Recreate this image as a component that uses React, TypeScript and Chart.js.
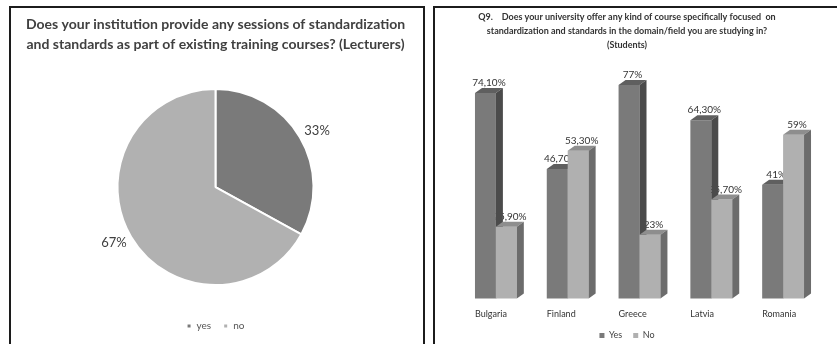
import React, { useEffect, useRef } from "react";
import { Chart, registerables } from "chart.js";

Chart.register(...registerables);

// Lecturers: share of institutions offering standardization sessions
const pieLabels = ["yes", "no"];
const pieValues = [33, 67];
const pieColors = ["#7a7a7a", "#b1b1b1"];

// Students: courses focused on standardization, by country
const countries = ["Bulgaria", "Finland", "Greece", "Latvia", "Romania"];
const seriesNames = ["Yes", "No"];
const yesValues = [74.1, 46.7, 77, 64.3, 41];
const noValues = [25.9, 53.3, 23, 35.7, 59];

const pieTitle = [
  "Does your institution provide any sessions of standardization",
  "and standards as part of existing training courses? (Lecturers)",
];
const barTitle = [
  "Q9.    Does your university offer any kind of course specifically focused  on",
  "standardization and standards in the domain/field you are studying in?",
  "(Students)",
];

const FONT = "Lato, 'Open Sans', sans-serif";

// front / top / side shades for the extruded bars
const faceColors = [
  { front: "#7a7a7a", top: "#5f5f5f", side: "#4b4b4b" },
  { front: "#b0b0b0", top: "#8e8e8e", side: "#6c6c6c" },
];
const DEPTH_X = 7;
const DEPTH_Y = 5;

const fmtPct = (v: number) =>
  Number.isInteger(v) ? `${v}%` : `${v.toFixed(2).replace(".", ",")}%`;

const pieOuterLabels = {
  id: "pieOuterLabels",
  afterDatasetsDraw(chart: any) {
    const { ctx } = chart;
    const meta = chart.getDatasetMeta(0);
    const values = chart.data.datasets[0].data as number[];
    ctx.save();
    ctx.font = `13px ${FONT}`;
    ctx.fillStyle = "#404040";
    ctx.textAlign = "center";
    ctx.textBaseline = "middle";
    meta.data.forEach((arc: any, i: number) => {
      const { x, y, startAngle, endAngle, outerRadius } = arc.getProps(
        ["x", "y", "startAngle", "endAngle", "outerRadius"],
        true
      );
      const mid = (startAngle + endAngle) / 2 + 0.03;
      const r = outerRadius + 18;
      ctx.fillText(fmtPct(values[i]), x + Math.cos(mid) * r, y + Math.sin(mid) * r);
    });
    ctx.restore();
  },
};

const drawFaces = (ctx: CanvasRenderingContext2D, bar: any, faces: any) => {
  const { x, y, base, width } = bar.getProps(["x", "y", "base", "width"], true);
  const l = x - width / 2;
  const r = x + width / 2;
  ctx.fillStyle = faces.top;
  ctx.beginPath();
  ctx.moveTo(l, y);
  ctx.lineTo(l + DEPTH_X, y - DEPTH_Y);
  ctx.lineTo(r + DEPTH_X, y - DEPTH_Y);
  ctx.lineTo(r, y);
  ctx.closePath();
  ctx.fill();
  ctx.fillStyle = faces.side;
  ctx.beginPath();
  ctx.moveTo(r, y);
  ctx.lineTo(r + DEPTH_X, y - DEPTH_Y);
  ctx.lineTo(r + DEPTH_X, base - DEPTH_Y);
  ctx.lineTo(r, base);
  ctx.closePath();
  ctx.fill();
};

const bar3d = {
  id: "bar3d",
  // value labels sit behind the bars, so neighbouring sides may cover them
  beforeDatasetsDraw(chart: any) {
    const { ctx } = chart;
    ctx.save();
    ctx.font = `10px ${FONT}`;
    ctx.fillStyle = "#333333";
    ctx.textAlign = "center";
    ctx.textBaseline = "bottom";
    chart.data.datasets.forEach((ds: any, di: number) => {
      const meta = chart.getDatasetMeta(di);
      meta.data.forEach((bar: any, i: number) => {
        const { x, y } = bar.getProps(["x", "y"], true);
        ctx.fillText(fmtPct(ds.data[i]), x + DEPTH_X / 2, y - DEPTH_Y);
      });
    });
    ctx.restore();
  },
  // paint series left to right so each bar's front hides the side of the one before it
  beforeDatasetDraw() {
    return false;
  },
  afterDatasetsDraw(chart: any) {
    const { ctx } = chart;
    chart.data.datasets.forEach((_ds: any, di: number) => {
      const meta = chart.getDatasetMeta(di);
      meta.controller.draw();
      ctx.save();
      meta.data.forEach((bar: any) => drawFaces(ctx, bar, faceColors[di]));
      ctx.restore();
    });
  },
  // category names start at the left edge of each group
  afterDraw(chart: any) {
    const { ctx, chartArea } = chart;
    const meta = chart.getDatasetMeta(0);
    ctx.save();
    ctx.font = `9px ${FONT}`;
    ctx.fillStyle = "#333333";
    ctx.textAlign = "left";
    ctx.textBaseline = "middle";
    meta.data.forEach((bar: any, i: number) => {
      const { x, width } = bar.getProps(["x", "width"], true);
      ctx.fillText(chart.data.labels[i], x - width / 2, chartArea.bottom + 15);
    });
    ctx.restore();
  },
};

function PieChart() {
  const ref = useRef<HTMLCanvasElement>(null);
  useEffect(() => {
    const chart = new Chart(ref.current as HTMLCanvasElement, {
      type: "pie",
      data: {
        labels: pieLabels,
        datasets: [
          {
            data: pieValues,
            backgroundColor: pieColors,
            borderColor: "#ffffff",
            borderWidth: 2,
            hoverOffset: 0,
            radius: 98,
          } as any,
        ],
      },
      options: {
        responsive: false,
        animation: false,
        devicePixelRatio: 1,
        layout: { padding: { left: 7, right: 0, top: 0, bottom: 3 } },
        plugins: {
          title: {
            display: true,
            text: pieTitle,
            color: "#404040",
            font: { family: FONT, size: 14, weight: "bold", lineHeight: 1.45 },
            padding: { top: 6, bottom: 10.5 },
          },
          legend: {
            position: "bottom",
            labels: {
              boxWidth: 5,
              boxHeight: 5,
              padding: 12,
              color: "#555555",
              font: { family: FONT, size: 10 },
            },
          },
          tooltip: { enabled: false },
        },
      },
      plugins: [pieOuterLabels],
    });
    return () => chart.destroy();
  }, []);
  return (
    <canvas
      ref={ref}
      width={402}
      height={336}
      style={{ position: "absolute", left: 11, top: 8, width: 402, height: 336 }}
    />
  );
}

function BarChart() {
  const ref = useRef<HTMLCanvasElement>(null);
  useEffect(() => {
    const chart = new Chart(ref.current as HTMLCanvasElement, {
      type: "bar",
      data: {
        labels: countries,
        datasets: [
          { label: seriesNames[0], data: yesValues, backgroundColor: faceColors[0].front },
          { label: seriesNames[1], data: noValues, backgroundColor: faceColors[1].front },
        ],
      },
      options: {
        responsive: false,
        animation: false,
        devicePixelRatio: 1,
        layout: { padding: { left: 0, right: 0, top: 0, bottom: 8 } },
        datasets: { bar: { categoryPercentage: 0.583, barPercentage: 1, borderWidth: 0 } },
        scales: {
          x: {
            grid: { display: false, drawTicks: false },
            border: { display: false },
            ticks: { display: false },
            afterFit: (scale: any) => {
              scale.height = 21.4;
            },
          },
          y: {
            min: 0,
            max: 80,
            grid: { display: false, drawTicks: false },
            border: { display: false },
            ticks: { display: false },
            afterFit: (scale: any) => {
              scale.width = 25;
            },
          },
        },
        plugins: {
          title: {
            display: true,
            text: barTitle,
            color: "#333333",
            font: { family: FONT, size: 9, weight: "bold", lineHeight: 1.55 },
            padding: { top: 2.6, bottom: 24.1 },
          },
          legend: {
            position: "bottom",
            labels: {
              boxWidth: 5,
              boxHeight: 5,
              padding: 11,
              color: "#444444",
              font: { family: FONT, size: 9 },
            },
          },
          tooltip: { enabled: false },
        },
      } as any,
      plugins: [bar3d],
    });
    return () => chart.destroy();
  }, []);
  return (
    <canvas
      ref={ref}
      width={384}
      height={350}
      style={{ position: "absolute", left: 435, top: 8, width: 384, height: 350 }}
    />
  );
}

export default function App() {
  return (
    <div
      style={{
        position: "absolute",
        left: 0,
        top: 0,
        width: 837,
        height: 344,
        overflow: "hidden",
        background: "#ffffff",
      }}
    >
      <div
        style={{
          position: "absolute",
          left: 9,
          top: 6,
          width: 416,
          height: 400,
          border: "2px solid #1c1c1c",
          boxSizing: "border-box",
        }}
      />
      <div
        style={{
          position: "absolute",
          left: 433,
          top: 6,
          width: 420,
          height: 400,
          border: "2px solid #1c1c1c",
          boxSizing: "border-box",
        }}
      />
      <PieChart />
      <BarChart />
    </div>
  );
}
